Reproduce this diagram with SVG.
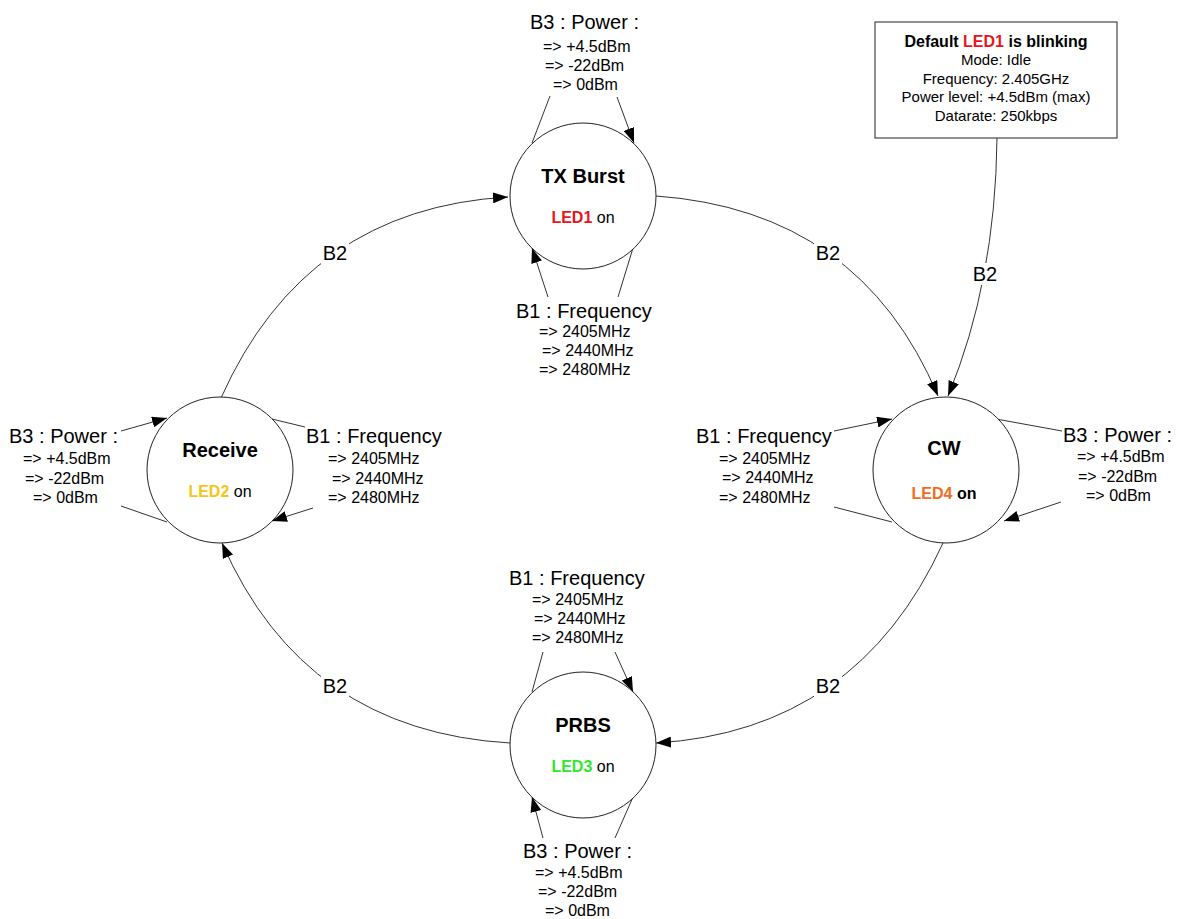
<svg xmlns="http://www.w3.org/2000/svg" width="1179" height="919" viewBox="0 0 1179 919">
<defs>
<marker id="ah" markerUnits="userSpaceOnUse" markerWidth="15" markerHeight="11" refX="15" refY="5.5" orient="auto">
<path d="M0,0 L15,5.5 L0,11 z" fill="#000"/>
</marker>
<style>
text{font-family:"Liberation Sans",Arial,sans-serif;fill:#000}
.node{fill:#fff;stroke:#222;stroke-width:1}
.title{font-size:20px;font-weight:bold;text-anchor:middle}
.led{font-size:16px;text-anchor:middle}
.b{font-weight:bold}
.hd{font-size:20px}
.val{font-size:16px}
.lbl{font-size:20px;text-anchor:middle}
.edge{fill:none;stroke:#333;stroke-width:1}
.arr{marker-end:url(#ah)}
.bg{fill:#fff}
.box{fill:#fff;stroke:#222;stroke-width:1}
.bt{font-size:15px;text-anchor:middle}
</style>
</defs>
<rect width="1179" height="919" fill="#fff"/>

<g id="connectors">
<path class="edge arr" d="M221,398 Q305.5,208.5 508,197"/>
<path class="edge arr" d="M656,196 Q860,210.5 938,396"/>
<path class="edge arr" d="M997,138 Q995.5,281.5 948,396"/>
<path class="edge arr" d="M943,543 Q857,731 656,743"/>
<path class="edge arr" d="M510,743 Q304,731 222,543"/>
<!-- TX Burst loops -->
<line class="edge" x1="550" y1="96" x2="532" y2="143"/>
<line class="edge arr" x1="617" y1="97" x2="634" y2="143"/>
<line class="edge arr" x1="548" y1="297" x2="532" y2="248"/>
<line class="edge" x1="618" y1="297" x2="633" y2="248"/>
<!-- Receive loops -->
<line class="edge arr" x1="121" y1="431" x2="167" y2="418"/>
<line class="edge" x1="121" y1="506" x2="167" y2="522"/>
<line class="edge" x1="272" y1="419" x2="305" y2="427"/>
<line class="edge arr" x1="313" y1="508" x2="272" y2="521"/>
<!-- CW loops -->
<line class="edge arr" x1="834" y1="431" x2="892" y2="419"/>
<line class="edge" x1="834" y1="507" x2="892" y2="522"/>
<line class="edge" x1="996" y1="419" x2="1062" y2="431"/>
<line class="edge arr" x1="1061" y1="502" x2="1004" y2="521"/>
<!-- PRBS loops -->
<line class="edge" x1="543" y1="652" x2="532" y2="692"/>
<line class="edge arr" x1="615" y1="652" x2="633" y2="692"/>
<line class="edge arr" x1="543" y1="838" x2="532" y2="797"/>
<line class="edge" x1="615" y1="838" x2="633" y2="797"/>
<!-- B2 labels -->
<rect class="bg" x="321" y="242" width="28" height="22"/>
<text class="lbl" x="335" y="260">B2</text>
<rect class="bg" x="814" y="242" width="28" height="22"/>
<text class="lbl" x="828" y="260">B2</text>
<rect class="bg" x="971" y="263" width="28" height="22"/>
<text class="lbl" x="985" y="281">B2</text>
<rect class="bg" x="814" y="675" width="28" height="22"/>
<text class="lbl" x="828" y="693">B2</text>
<rect class="bg" x="321" y="675" width="28" height="22"/>
<text class="lbl" x="335" y="693">B2</text>
</g>

<g id="default-box">
<rect class="box" x="875" y="22" width="242" height="116"/>
<text class="bt b" x="996" y="47" style="font-size:16px">Default  <tspan fill="#e8141c">LED1</tspan> is blinking</text>
<text class="bt" x="996" y="65">Mode: Idle</text>
<text class="bt" x="996" y="84">Frequency: 2.405GHz</text>
<text class="bt" x="996" y="102">Power level: +4.5dBm (max)</text>
<text class="bt" x="996" y="121">Datarate: 250kbps</text>
</g>

<g id="tx-burst">
<circle class="node" cx="583" cy="196" r="73"/>
<text class="title" x="583" y="183">TX Burst</text>
<text class="led" x="583" y="223"><tspan class="b" fill="#e8141c">LED1</tspan> on</text>
<text class="hd" x="530" y="29">B3 : Power :</text>
<text class="val" x="543" y="52">=&gt; +4.5dBm</text>
<text class="val" x="545" y="71">=&gt; -22dBm</text>
<text class="val" x="553" y="90">=&gt; 0dBm</text>
<text class="hd" x="516" y="318">B1 : Frequency</text>
<text class="val" x="539" y="337">=&gt; 2405MHz</text>
<text class="val" x="542" y="356">=&gt; 2440MHz</text>
<text class="val" x="539" y="375">=&gt; 2480MHz</text>
</g>

<g id="receive">
<circle class="node" cx="220" cy="470" r="73"/>
<text class="title" x="220" y="457">Receive</text>
<text class="led" x="220" y="497"><tspan class="b" fill="#f5c518">LED2</tspan> on</text>
<text class="hd" x="9" y="443">B3 : Power :</text>
<text class="val" x="23" y="464">=&gt; +4.5dBm</text>
<text class="val" x="25" y="484">=&gt; -22dBm</text>
<text class="val" x="33" y="503">=&gt; 0dBm</text>
<text class="hd" x="306" y="443">B1 : Frequency</text>
<text class="val" x="328" y="464">=&gt; 2405MHz</text>
<text class="val" x="332" y="484">=&gt; 2440MHz</text>
<text class="val" x="328" y="503">=&gt; 2480MHz</text>
</g>

<g id="cw">
<circle class="node" cx="946" cy="470" r="73"/>
<text class="title" x="944" y="455">CW</text>
<text class="led b" x="944" y="499"><tspan fill="#f26c22">LED4</tspan> on</text>
<text class="hd" x="696" y="443">B1 : Frequency</text>
<text class="val" x="719" y="464">=&gt; 2405MHz</text>
<text class="val" x="722" y="483">=&gt; 2440MHz</text>
<text class="val" x="719" y="503">=&gt; 2480MHz</text>
<text class="hd" x="1063" y="442">B3 : Power :</text>
<text class="val" x="1077" y="462">=&gt; +4.5dBm</text>
<text class="val" x="1078" y="482">=&gt; -22dBm</text>
<text class="val" x="1086" y="501">=&gt; 0dBm</text>
</g>

<g id="prbs">
<circle class="node" cx="583" cy="745" r="73"/>
<text class="title" x="583" y="732">PRBS</text>
<text class="led" x="583" y="772"><tspan class="b" fill="#2ee82e">LED3</tspan> on</text>
<text class="hd" x="509" y="585">B1 : Frequency</text>
<text class="val" x="532" y="605">=&gt; 2405MHz</text>
<text class="val" x="534" y="624">=&gt; 2440MHz</text>
<text class="val" x="532" y="643">=&gt; 2480MHz</text>
<text class="hd" x="523" y="858">B3 : Power :</text>
<text class="val" x="535" y="878">=&gt; +4.5dBm</text>
<text class="val" x="538" y="897">=&gt; -22dBm</text>
<text class="val" x="545" y="916">=&gt; 0dBm</text>
</g>
</svg>
